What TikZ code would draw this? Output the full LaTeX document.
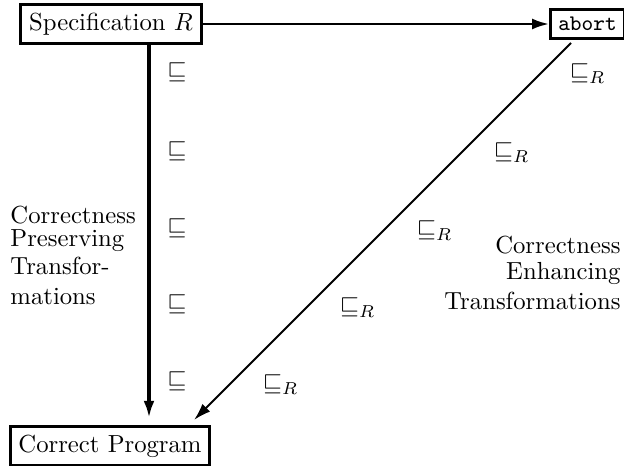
\documentclass[tikz,border=0pt]{standalone}
\usetikzlibrary{arrows.meta}
\begin{document}
\begin{tikzpicture}[x=0.4049pt,y=-0.4049pt,
  box/.style={draw,line width=1.2pt,inner sep=3.33pt},
  lbl/.style={inner sep=0pt,anchor=base west},
  txt/.style={inner sep=0pt},
  tip/.style={-{Latex[length=7pt,width=4.4pt]}}]
\useasboundingbox (0,0) rectangle (624,466);
\node[box] (spec) at (111,24) {Specification $R$};
\node[box,inner xsep=3pt,inner ysep=3pt,font=\small\ttfamily] (abort) at (587.5,24) {abort};
\node[box] (prog) at (110,446) {Correct Program};
\coordinate (vx) at (149,0);
\coordinate (d1) at (571,43);
\coordinate (d2) at (194,420);
\draw[tip,line width=1.2pt] (spec.east) -- (abort.west);
\draw[tip,line width=1.6pt,shorten >=2.8pt] (spec.south -| vx) -- (prog.north -| vx);
\draw[tip,line width=0.8pt] (d1) -- (d2);
\foreach \y/\i in {73/1,152/2,229/3,305/4,382/5}{
  \node[lbl] (p\i) at (167,\y+6) {$\sqsubseteq$};
}
\foreach \x/\y/\i in {579/74/1,503/153/2,426/231/3,349/308/4,272/385/5}{
  \node[lbl] (e\i) at (\x-9.6,\y+6) {$\sqsubseteq_R$};
}
\node[txt,anchor=base west] (l1) at (10,224) {Correctness};
\node[txt,anchor=base west] (l2) at (10,247) {Preserving};
\node[txt,anchor=base west] (l3) at (10,275) {Transfor-};
\node[txt,anchor=base west] (l4) at (10,305) {mations};
\node[txt,anchor=base east] (r1) at (621,254) {Correctness};
\node[txt,anchor=base east] (r2) at (621,280) {Enhancing};
\node[txt,anchor=base east] (r3) at (621,310) {Transformations};
\end{tikzpicture}
\end{document}
